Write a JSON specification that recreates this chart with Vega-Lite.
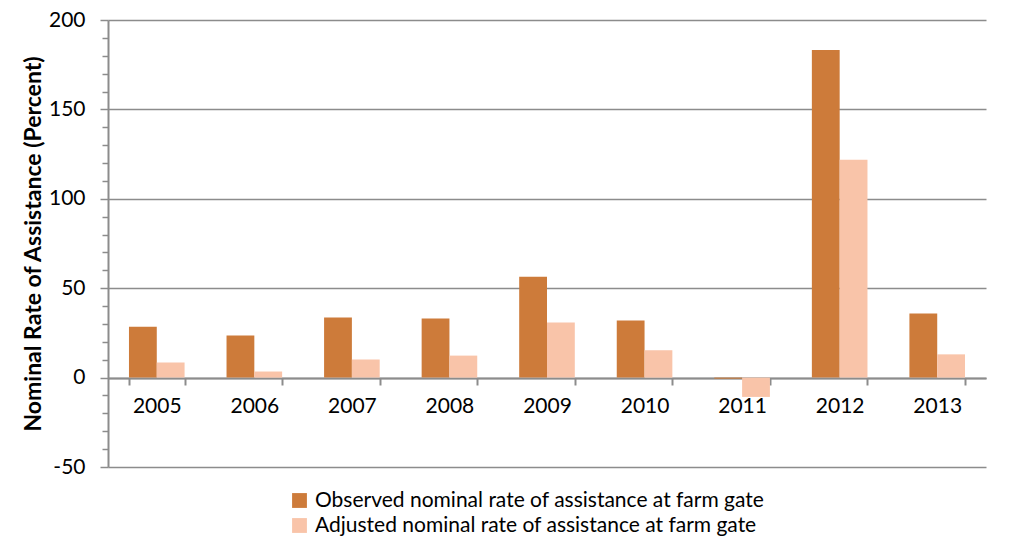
{
  "$schema": "https://vega.github.io/schema/vega-lite/v6.json",
  "autosize": "none",
  "width": 878,
  "height": 447,
  "padding": {"left": 108, "top": 20, "right": 38, "bottom": 93},
  "background": "white",
  "config": {
    "view": {"stroke": null},
    "font": "Lato",
    "axis": {"labelFont": "Lato", "titleFont": "Lato", "labelColor": "#000", "titleColor": "#000"}
  },
  "data": {
    "values": [
      {"year": "2005", "series": "Observed nominal rate of assistance at farm gate", "value": 28.5},
      {"year": "2005", "series": "Adjusted nominal rate of assistance at farm gate", "value": 8.4},
      {"year": "2006", "series": "Observed nominal rate of assistance at farm gate", "value": 23.6},
      {"year": "2006", "series": "Adjusted nominal rate of assistance at farm gate", "value": 3.4},
      {"year": "2007", "series": "Observed nominal rate of assistance at farm gate", "value": 33.6},
      {"year": "2007", "series": "Adjusted nominal rate of assistance at farm gate", "value": 10.1},
      {"year": "2008", "series": "Observed nominal rate of assistance at farm gate", "value": 33.0},
      {"year": "2008", "series": "Adjusted nominal rate of assistance at farm gate", "value": 12.3},
      {"year": "2009", "series": "Observed nominal rate of assistance at farm gate", "value": 56.4},
      {"year": "2009", "series": "Adjusted nominal rate of assistance at farm gate", "value": 30.8},
      {"year": "2010", "series": "Observed nominal rate of assistance at farm gate", "value": 31.9},
      {"year": "2010", "series": "Adjusted nominal rate of assistance at farm gate", "value": 15.3},
      {"year": "2011", "series": "Observed nominal rate of assistance at farm gate", "value": -0.6},
      {"year": "2011", "series": "Adjusted nominal rate of assistance at farm gate", "value": -10.8},
      {"year": "2012", "series": "Observed nominal rate of assistance at farm gate", "value": 183.2},
      {"year": "2012", "series": "Adjusted nominal rate of assistance at farm gate", "value": 121.8},
      {"year": "2013", "series": "Observed nominal rate of assistance at farm gate", "value": 35.8},
      {"year": "2013", "series": "Adjusted nominal rate of assistance at farm gate", "value": 13.0}
    ]
  },
  "mark": {"type": "bar"},
  "encoding": {
    "x": {
      "field": "year", "type": "nominal",
      "scale": {"paddingInner": 0.43, "paddingOuter": 0.215},
      "axis": {
        "title": null, "labelAngle": 0, "offset": -89,
        "domainColor": "#8c8c8c", "domainWidth": 2,
        "tickColor": "#8c8c8c", "tickWidth": 2, "tickSize": 7, "tickBand": "extent",
        "labelFontSize": 21, "labelPadding": 10
      }
    },
    "xOffset": {
      "field": "series", "type": "nominal",
      "sort": ["Observed nominal rate of assistance at farm gate", "Adjusted nominal rate of assistance at farm gate"],
      "scale": {"paddingInner": 0, "paddingOuter": 0}
    },
    "y": {
      "field": "value", "type": "quantitative",
      "scale": {"domain": [-50, 200], "nice": false},
      "axis": {
        "title": "Nominal Rate of Assistance (Percent)",
        "titleFontSize": 23, "titleFontWeight": "bold", "titlePadding": 3,
        "values": [-50, -40, -30, -20, -10, 0, 10, 20, 30, 40, 50, 60, 70, 80, 90, 100, 110, 120, 130, 140, 150, 160, 170, 180, 190, 200],
        "labelExpr": "datum.value % 50 === 0 ? replace(datum.label, '\u2212', '-') : ''",
        "labelFontSize": 21, "labelPadding": 15,
        "domainColor": "#8c8c8c", "domainWidth": 2,
        "tickColor": "#8c8c8c", "tickWidth": 1.5,
        "tickSize": {"condition": {"test": "datum.value % 50 === 0", "value": 8}, "value": 6},
        "grid": true, "gridColor": "#8c8c8c", "gridWidth": 1.5,
        "gridOpacity": {"condition": {"test": "datum.value % 50 === 0", "value": 1}, "value": 0}
      }
    },
    "color": {
      "field": "series", "type": "nominal",
      "sort": ["Observed nominal rate of assistance at farm gate", "Adjusted nominal rate of assistance at farm gate"],
      "scale": {"range": ["#CD7B3A", "#F9C4A9"]},
      "legend": {
        "title": null, "orient": "none", "legendX": 181, "legendY": 470,
        "direction": "vertical", "symbolType": "square", "symbolSize": 220,
        "symbolStrokeWidth": 0, "symbolOpacity": 1, "labelLimit": 0,
        "labelFont": "Lato", "labelFontSize": 21, "labelColor": "#000", "rowPadding": 3, "labelOffset": 5
      }
    }
  }
}
